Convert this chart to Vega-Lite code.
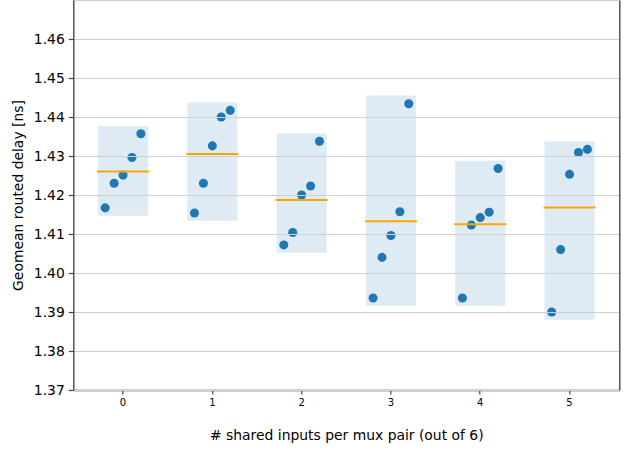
{
  "$schema": "https://vega.github.io/schema/vega-lite/v6.json",
  "width": 546,
  "height": 390,
  "autosize": "none",
  "padding": {"left": 73.3, "top": 0, "right": 14.7, "bottom": 60},
  "background": "white",
  "config": {
    "font": "DejaVu Sans",
    "view": {"stroke": "#d0d0d0", "strokeWidth": 1},
    "axis": {
      "labelColor": "black",
      "titleColor": "black",
      "titleFontWeight": "normal",
      "domainColor": "#444444",
      "domainWidth": 1.3,
      "tickColor": "#444444",
      "tickWidth": 1.2
    }
  },
  "datasets": {
    "runs": [
      {"n": 0, "slot": 0, "delay": 1.4167},
      {"n": 0, "slot": 1, "delay": 1.4230},
      {"n": 0, "slot": 2, "delay": 1.4251},
      {"n": 0, "slot": 3, "delay": 1.4296},
      {"n": 0, "slot": 4, "delay": 1.4357},
      {"n": 1, "slot": 0, "delay": 1.4154},
      {"n": 1, "slot": 1, "delay": 1.4230},
      {"n": 1, "slot": 2, "delay": 1.4326},
      {"n": 1, "slot": 3, "delay": 1.4400},
      {"n": 1, "slot": 4, "delay": 1.4417},
      {"n": 2, "slot": 0, "delay": 1.4072},
      {"n": 2, "slot": 1, "delay": 1.4104},
      {"n": 2, "slot": 2, "delay": 1.4200},
      {"n": 2, "slot": 3, "delay": 1.4223},
      {"n": 2, "slot": 4, "delay": 1.4338},
      {"n": 3, "slot": 0, "delay": 1.3936},
      {"n": 3, "slot": 1, "delay": 1.4040},
      {"n": 3, "slot": 2, "delay": 1.4096},
      {"n": 3, "slot": 3, "delay": 1.4157},
      {"n": 3, "slot": 4, "delay": 1.4434},
      {"n": 4, "slot": 0, "delay": 1.3936},
      {"n": 4, "slot": 1, "delay": 1.4123},
      {"n": 4, "slot": 2, "delay": 1.4142},
      {"n": 4, "slot": 3, "delay": 1.4156},
      {"n": 4, "slot": 4, "delay": 1.4268},
      {"n": 5, "slot": 0, "delay": 1.3900},
      {"n": 5, "slot": 1, "delay": 1.4060},
      {"n": 5, "slot": 2, "delay": 1.4253},
      {"n": 5, "slot": 3, "delay": 1.4309},
      {"n": 5, "slot": 4, "delay": 1.4317}
    ],
    "spans": [
      {"n": 0, "lo": 1.4147, "hi": 1.4377},
      {"n": 1, "lo": 1.4134, "hi": 1.4437},
      {"n": 2, "lo": 1.4052, "hi": 1.4358},
      {"n": 3, "lo": 1.3916, "hi": 1.4455},
      {"n": 4, "lo": 1.3916, "hi": 1.4288},
      {"n": 5, "lo": 1.3880, "hi": 1.4337}
    ]
  },
  "layer": [
    {
      "data": {"name": "spans"},
      "mark": {"type": "bar", "width": 50, "fill": "#1f77b4", "fillOpacity": 0.15, "stroke": null},
      "encoding": {
        "x": {
          "field": "n", "type": "ordinal",
          "scale": {"type": "band", "paddingInner": 0, "paddingOuter": 0.057, "align": 0.5},
          "axis": {
            "title": "# shared inputs per mux pair (out of 6)",
            "titleFontSize": 13.9,
            "titlePadding": 21,
            "labelAngle": 0,
            "labelFontSize": 10,
            "labelPadding": 3,
            "tickSize": 4,
            "grid": false
          }
        },
        "y": {
          "field": "lo", "type": "quantitative",
          "scale": {"domain": [1.37, 1.47], "nice": false, "zero": false},
          "axis": null
        },
        "y2": {"field": "hi"}
      }
    },
    {
      "data": {"name": "runs"},
      "mark": {"type": "circle", "size": 82, "color": "#1f77b4", "opacity": 1},
      "encoding": {
        "x": {"field": "n", "type": "ordinal"},
        "xOffset": {
          "field": "slot", "type": "ordinal",
          "scale": {"type": "point", "padding": 0, "range": [26.8, 62.5]}
        },
        "y": {
          "field": "delay", "type": "quantitative",
          "scale": {"domain": [1.37, 1.47], "nice": false, "zero": false},
          "axis": {
            "title": "Geomean routed delay [ns]",
            "titleFontSize": 13.9,
            "titlePadding": 8,
            "values": [1.37, 1.38, 1.39, 1.40, 1.41, 1.42, 1.43, 1.44, 1.45, 1.46],
            "format": ".2f",
            "labelFontSize": 13.9,
            "labelPadding": 4,
            "tickSize": 5,
            "grid": true,
            "gridColor": "#d0d0d0",
            "gridWidth": 1.1,
            "zindex": 1
          }
        }
      }
    },
    {
      "data": {"name": "runs"},
      "mark": {"type": "tick", "size": 52, "thickness": 2, "color": "orange", "opacity": 1},
      "encoding": {
        "x": {"field": "n", "type": "ordinal"},
        "y": {
          "aggregate": "mean", "field": "delay", "type": "quantitative",
          "scale": {"domain": [1.37, 1.47], "nice": false, "zero": false},
          "axis": {"orient": "right", "labels": false, "ticks": false, "grid": false, "title": null, "zindex": 2}
        }
      }
    }
  ],
  "resolve": {"scale": {"y": "independent"}, "axis": {"y": "independent"}}
}
